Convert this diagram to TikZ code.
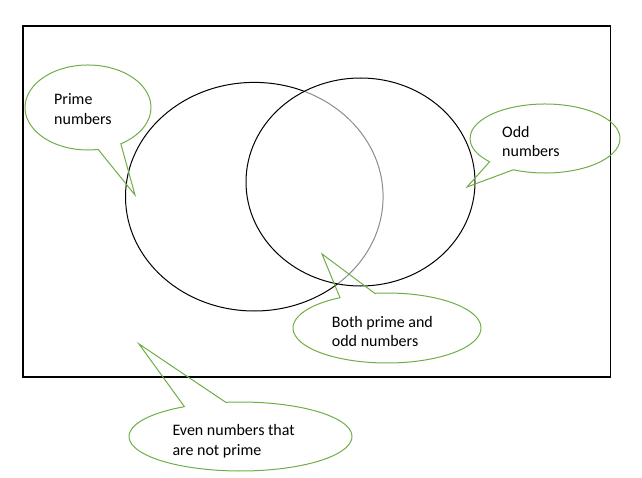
\documentclass[tikz,border=0pt]{standalone}
\usepackage{fontspec}
\setmainfont{Carlito}
\usetikzlibrary{calc,shapes.geometric}
\definecolor{calloutgreen}{HTML}{70AD47}
\tikzset{
  frame/.style={draw=black, line width=1.3pt},
  setshape/.style={ellipse, draw=black, line width=1pt, inner sep=0pt},
  callout/.style={draw=calloutgreen, line width=1pt, line join=miter},
  label/.style={anchor=north west, inner sep=0pt, align=left,
    font=\fontsize{16}{19.5}\selectfont, text=black},
}
\begin{document}
\begin{tikzpicture}[x=1pt, y=1pt]
  \useasboundingbox (0,0) rectangle (642,477);

  % universe
  \draw[frame] (23,451) rectangle (610.5,100);

  % the two sets; the odd set is washed white so the prime boundary shows grey inside it
  \node[setshape, minimum width=257.6pt, minimum height=228.6pt] (primeSet) at (254.3,280.3) {};
  \node[setshape, minimum width=229pt, minimum height=208pt,
        fill=white, fill opacity=0.55] (oddSet) at (360.5,295) {};

  % callout: prime numbers
  \coordinate (primeC) at (88,369.5);
  \coordinate (primeTip) at (135,282);
  \draw[callout] ($(primeC)+(-58.6:63pt and 42.5pt)$)
    arc[start angle=-58.6, end angle=279.3, x radius=63pt, y radius=42.5pt]
    -- (primeTip) -- cycle;
  \node[label] (primeTxt) at (54,383.7) {Prime\\numbers};

  % callout: odd numbers
  \coordinate (oddC) at (545,338.5);
  \coordinate (oddTip) at (467,290);
  \draw[callout] ($(oddC)+(-115:75pt and 34.5pt)$)
    arc[start angle=-115, end angle=222.4, x radius=75pt, y radius=34.5pt]
    -- (oddTip) -- cycle;
  \node[label] (oddTxt) at (502,351.3) {Odd\\numbers};

  % callout: both prime and odd
  \coordinate (bothC) at (387,149);
  \coordinate (bothTip) at (322,223);
  \draw[callout] ($(bothC)+(120:94pt and 35pt)$)
    arc[start angle=120, end angle=457.5, x radius=94pt, y radius=35pt]
    -- (bothTip) -- cycle;
  \node[label] (bothTxt) at (331.7,161) {Both prime and\\odd numbers};

  % callout: even numbers that are not prime
  \coordinate (evenC) at (240.5,40.5);
  \coordinate (evenTip) at (139,133);
  \draw[callout] ($(evenC)+(120.2:111.5pt and 34.5pt)$)
    arc[start angle=120.2, end angle=457.6, x radius=111.5pt, y radius=34.5pt]
    -- (evenTip) -- cycle;
  \node[label] (evenTxt) at (172.3,52.7) {Even numbers that\\are not prime};
\end{tikzpicture}
\end{document}
